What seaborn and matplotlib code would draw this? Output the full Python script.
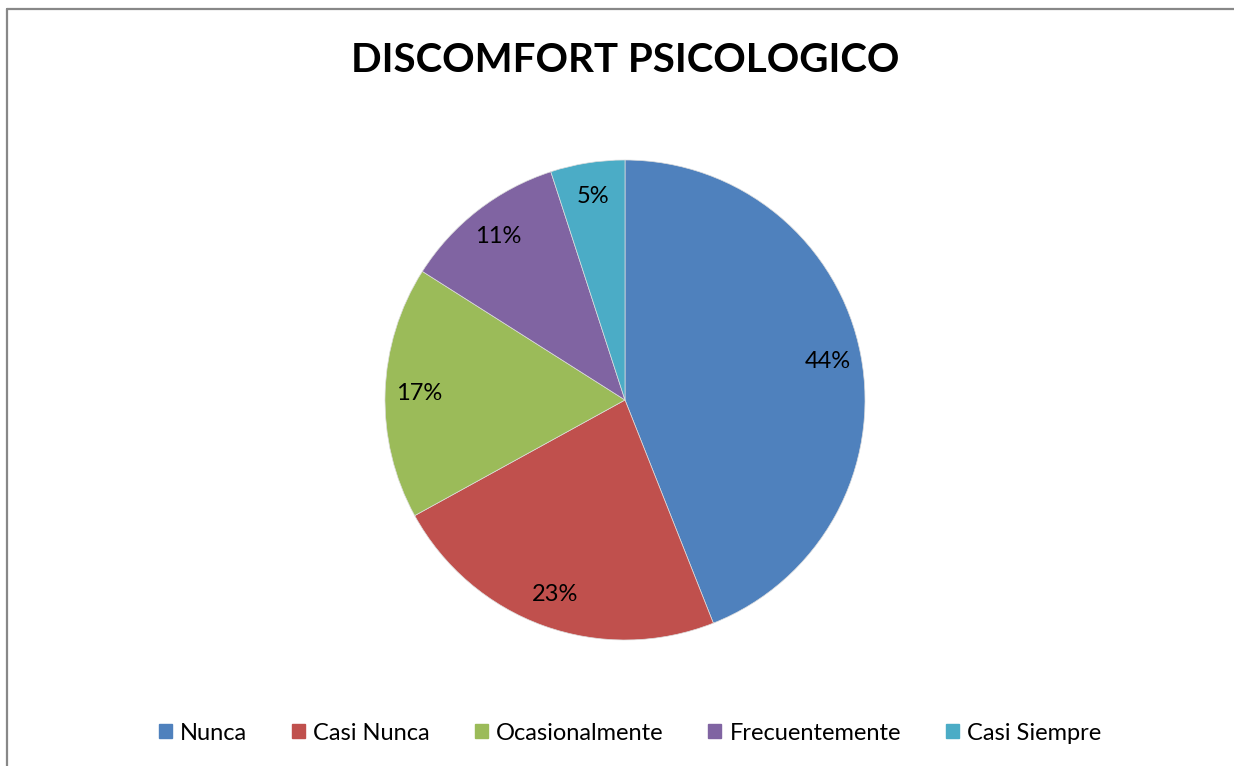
import matplotlib
matplotlib.use('Agg')
import matplotlib.pyplot as plt
import matplotlib.patches as mpatches
import seaborn as sns

categories = ['Nunca', 'Casi Nunca', 'Ocasionalmente', 'Frecuentemente', 'Casi Siempre']
values = [44, 23, 17, 11, 5]
colors = ['#4F81BD', '#C0504D', '#9BBB59', '#8064A2', '#4BACC6']
title = 'DISCOMFORT PSICOLOGICO'

sns.set_theme(style='white')
plt.rcParams['font.family'] = ['Lato', 'DejaVu Sans']
plt.rcParams['text.color'] = 'black'

fig = plt.figure(figsize=(12.34, 7.66), dpi=100)

# outer chart border (only left and top visible in the reference)
fig.add_artist(plt.Line2D([7 / 1234, 7 / 1234], [0, 1 - 9 / 766], color='#888888', lw=1.6))
fig.add_artist(plt.Line2D([7 / 1234, 1], [1 - 9 / 766, 1 - 9 / 766], color='#888888', lw=1.6))

# pie axes: centre (625, 400) px, radius 240 px
ax = fig.add_axes([(625 - 240) / 1234, (766 - 640) / 766, 480 / 1234, 480 / 766])
wedges, texts, autotexts = ax.pie(values, colors=colors, startangle=90, counterclock=False,
                                  autopct='%1.0f%%', pctdistance=0.86,
                                  wedgeprops=dict(edgecolor='#dddddd', linewidth=0.5),
                                  textprops=dict(fontsize=17, color='black'))
ax.set_xlim(-1, 1)
ax.set_ylim(-1, 1)
ax.set_aspect('equal')
ax.axis('off')

fig.text(625 / 1234, 1 - 60 / 766, title, ha='center', va='center', fontsize=29,
         fontweight='bold', color='black')

handles = [mpatches.Patch(color=c, label=l) for c, l in zip(colors, categories)]
fig.legend(handles=handles, loc='center', bbox_to_anchor=(630 / 1234, 1 - 733 / 766), ncol=5,
           frameon=False, fontsize=17, handlelength=0.55, handleheight=0.55, handletextpad=0.35,
           columnspacing=1.9, labelcolor='black')

plt.savefig('out.png', dpi=100)
